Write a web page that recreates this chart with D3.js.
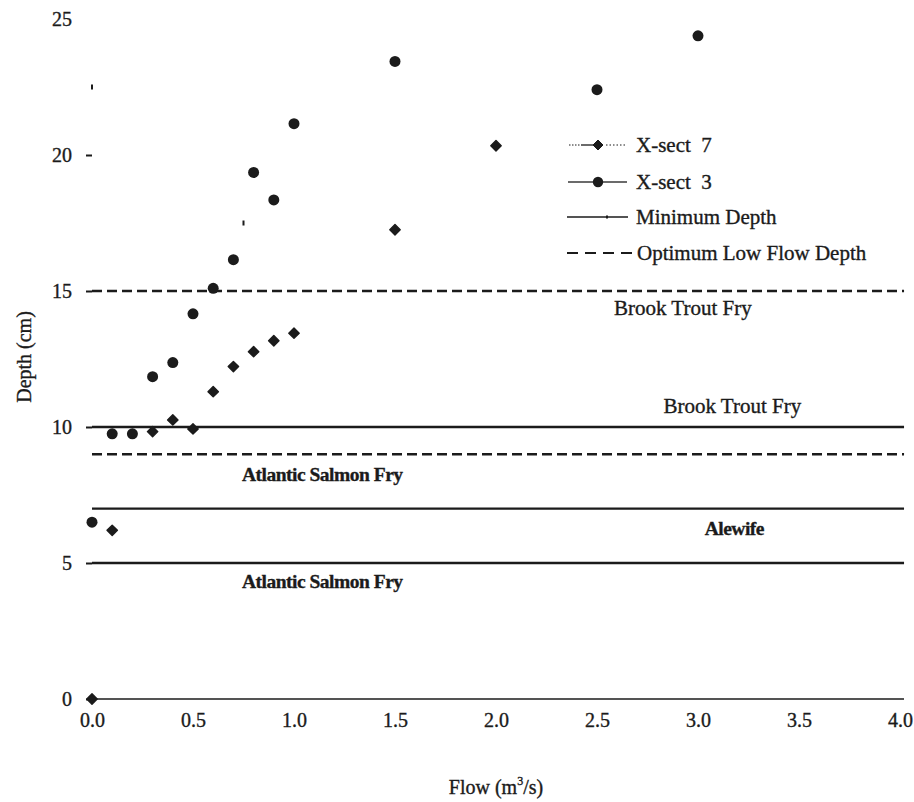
<!DOCTYPE html>
<html>
<head>
<meta charset="utf-8">
<script src="https://cdn.jsdelivr.net/npm/d3@7"></script>
<style>
  html, body { margin: 0; padding: 0; background: #fff; }
  svg { display: block; font-family: "Liberation Serif", "Times New Roman", serif; }
  text { fill: #1b1b1b; stroke: #1b1b1b; stroke-width: 0.35px; }
</style>
</head>
<body>
<svg id="chart" width="914" height="802"></svg>
<script>
// Axis ticks
const flowTicks = [0.0, 0.5, 1.0, 1.5, 2.0, 2.5, 3.0, 3.5, 4.0];
const depthTicks = [0, 5, 10, 15, 20, 25];

// Cross-section 7 (diamonds)
const xsect7Flow  = [0.0, 0.1, 0.3, 0.4, 0.5, 0.6, 0.7, 0.8, 0.9, 1.0, 1.5, 2.0];
const xsect7Depth = [0.0, 6.2, 9.83, 10.26, 9.93, 11.3, 12.22, 12.77, 13.17, 13.45, 17.25, 20.34];

// Cross-section 3 (circles)
const xsect3Flow  = [0.0, 0.1, 0.2, 0.3, 0.4, 0.5, 0.6, 0.7, 0.8, 0.9, 1.0, 1.5, 2.5, 3.0];
const xsect3Depth = [6.5, 9.75, 9.75, 11.85, 12.37, 14.16, 15.1, 16.15, 19.36, 18.35, 21.15, 23.44, 22.4, 24.38];

// Small stray markers
const tickMarkFlow  = [0.0, 0.75];
const tickMarkDepth = [22.5, 17.5];

// Minimum depth criteria (solid) and optimum low-flow depth criteria (dashed)
const minDepthValues  = [10, 7, 5];
const minDepthSpecies = ["Brook Trout Fry", "Alewife", "Atlantic Salmon Fry"];
const optDepthValues  = [15, 9];
const optDepthSpecies = ["Brook Trout Fry", "Atlantic Salmon Fry"];

const legendLabels = ["X-sect  7", "X-sect  3", "Minimum Depth", "Optimum Low Flow Depth"];

const svg = d3.select("#chart");
const ink = "#1b1b1b";

const x = d3.scaleLinear().domain([0, 4]).range([92, 900]);
const y = d3.scaleLinear().domain([0, 25]).range([699, 19]);

// Y axis: tick labels with short ticks, no spine
const yAxis = svg.append("g")
  .attr("transform", `translate(${x(0)},0)`)
  .call(d3.axisLeft(y).tickValues(depthTicks).tickFormat(d3.format("d")).tickSize(6).tickPadding(14));
yAxis.select(".domain").remove();
yAxis.selectAll(".tick line").attr("stroke", ink).attr("stroke-width", 2)
  .attr("display", d => d === 25 ? "none" : null);
yAxis.selectAll(".tick text").attr("font-size", 20).attr("font-family", "Liberation Serif").attr("fill", ink);

// X axis along zero depth
const xAxis = svg.append("g")
  .attr("transform", `translate(0,${y(0)})`)
  .call(d3.axisBottom(x).tickValues(flowTicks).tickFormat(d3.format(".1f")).tickSize(0).tickPadding(14));
xAxis.select(".domain").remove();
xAxis.selectAll(".tick text").attr("font-size", 20).attr("font-family", "Liberation Serif").attr("fill", ink);

// Zero-depth baseline
svg.append("line")
  .attr("x1", x(0)).attr("x2", x(4.02))
  .attr("y1", y(0)).attr("y2", y(0))
  .attr("stroke", ink).attr("stroke-width", 1.6);

// Criteria lines
svg.append("g").selectAll("line").data(minDepthValues).join("line")
  .attr("x1", x(0)).attr("x2", x(4.02))
  .attr("y1", d => y(d)).attr("y2", d => y(d))
  .attr("stroke", ink).attr("stroke-width", 2.4);

svg.append("g").selectAll("line").data(optDepthValues).join("line")
  .attr("x1", x(0)).attr("x2", x(4.02))
  .attr("y1", d => y(d)).attr("y2", d => y(d))
  .attr("stroke", ink).attr("stroke-width", 2.4)
  .attr("stroke-dasharray", "10,5");

// Species labels beside each criterion line
const minLabelPlace = [
  { fx: 3.17, dy: -21, bold: false },
  { fx: 3.18, dy: 20, bold: true },
  { fx: 1.14, dy: 18, bold: true }
];
const optLabelPlace = [
  { fx: 2.925, dy: 17, bold: false },
  { fx: 1.14, dy: 20, bold: true }
];
function speciesLabel(value, name, place) {
  svg.append("text")
    .attr("x", x(place.fx))
    .attr("y", y(value) + place.dy)
    .attr("dy", "0.35em")
    .attr("text-anchor", "middle")
    .attr("font-size", place.bold ? 19.5 : 21)
    .attr("font-weight", place.bold ? "bold" : "normal")
    .attr("letter-spacing", place.bold ? -0.5 : 0)
    .text(name);
}
minDepthValues.forEach((v, i) => speciesLabel(v, minDepthSpecies[i], minLabelPlace[i]));
optDepthValues.forEach((v, i) => speciesLabel(v, optDepthSpecies[i], optLabelPlace[i]));

// Markers
const diamondPath = s => `M0,${-s}L${s},0L0,${s}L${-s},0Z`;

svg.append("g").selectAll("path").data(d3.zip(xsect7Flow, xsect7Depth)).join("path")
  .attr("transform", d => `translate(${x(d[0])},${y(d[1])})`)
  .attr("d", diamondPath(5.2))
  .attr("fill", ink).attr("stroke", ink).attr("stroke-width", 1.4).attr("stroke-linejoin", "round");

svg.append("g").selectAll("circle").data(d3.zip(xsect3Flow, xsect3Depth)).join("circle")
  .attr("cx", d => x(d[0])).attr("cy", d => y(d[1]))
  .attr("r", 5.5)
  .attr("fill", ink);

svg.append("g").selectAll("rect").data(d3.zip(tickMarkFlow, tickMarkDepth)).join("rect")
  .attr("x", d => x(d[0]) - 1).attr("y", d => y(d[1]) - 2.5)
  .attr("width", 2).attr("height", 5)
  .attr("fill", ink);

// Legend
const legend = svg.append("g").attr("transform", "translate(567,0)");
const rows = [145, 182, 217, 253];
legendLabels.forEach((lab, i) => {
  const g = legend.append("g").attr("transform", `translate(0,${rows[i]})`);
  if (i === 0) {
    g.append("line").attr("x1", 2).attr("x2", 14).attr("stroke", ink).attr("stroke-width", 1).attr("stroke-dasharray", "1.5,1.5");
    g.append("line").attr("x1", 14).attr("x2", 28).attr("stroke", ink).attr("stroke-width", 1.3);
    g.append("path").attr("transform", "translate(31,0)").attr("d", diamondPath(5))
      .attr("fill", ink).attr("stroke", ink).attr("stroke-linejoin", "round");
    g.append("line").attr("x1", 39).attr("x2", 60).attr("stroke", ink).attr("stroke-width", 1).attr("stroke-dasharray", "1.5,2");
  } else if (i === 1) {
    g.append("line").attr("x1", 1).attr("x2", 28).attr("stroke", ink).attr("stroke-width", 1.3);
    g.append("circle").attr("cx", 31).attr("r", 5.2).attr("fill", ink);
    g.append("line").attr("x1", 36).attr("x2", 60).attr("stroke", ink).attr("stroke-width", 1.3);
  } else if (i === 2) {
    g.append("line").attr("x1", 0).attr("x2", 61).attr("stroke", ink).attr("stroke-width", 1.3);
    g.append("rect").attr("x", 39).attr("y", -1.5).attr("width", 2).attr("height", 3).attr("fill", ink);
  } else {
    g.append("line").attr("x1", 0).attr("x2", 66).attr("stroke", ink).attr("stroke-width", 2)
      .attr("stroke-dasharray", "11,7");
  }
  g.append("text")
    .attr("x", i === 3 ? 70 : 69)
    .attr("dy", "0.35em")
    .attr("font-size", 21)
    .style("white-space", "pre")
    .text(lab);
});

// Axis titles
svg.append("text")
  .attr("transform", `translate(24,${357}) rotate(-90)`)
  .attr("text-anchor", "middle")
  .attr("dy", "0.35em")
  .attr("font-size", 20)
  .text("Depth (cm)");

const flowTitle = svg.append("text")
  .attr("x", 496).attr("y", 787)
  .attr("dy", "0.35em")
  .attr("text-anchor", "middle")
  .attr("font-size", 20);
flowTitle.append("tspan").text("Flow (m");
flowTitle.append("tspan").attr("font-size", 12).attr("dy", "-0.75em").text("3");
flowTitle.append("tspan").attr("dy", "0.45em").text("/s)");
</script>
</body>
</html>
